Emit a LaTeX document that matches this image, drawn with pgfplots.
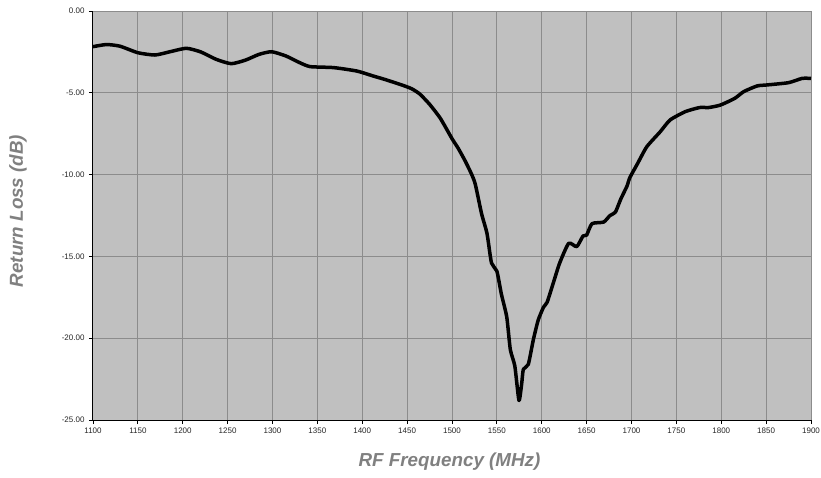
\documentclass[border=0pt]{standalone}
\usepackage{fontspec}
\setmainfont{Liberation Sans}
\usepackage{pgfplots}
\pgfplotsset{compat=1.18}
\definecolor{plotbg}{HTML}{C0C0C0}
\definecolor{gridc}{HTML}{8C8C8C}
\definecolor{labc}{HTML}{808080}
\begin{document}
\begin{tikzpicture}[x=1pt,y=1pt]
\useasboundingbox (-93,-57) rectangle (728,420);
\begin{axis}[
  at={(0,0)}, anchor=south west,
  scale only axis=true,
  width=718pt, height=409pt,
  xmin=1100, xmax=1900, ymin=-25, ymax=0,
  xtick={1100,1150,...,1900},
  xticklabels={1100,1150,1200,1250,1300,1350,1400,1450,1500,1550,1600,1650,1700,1750,1800,1850,1900},
  ytick={-25,-20,-15,-10,-5,0},
  yticklabels={-25.00,-20.00,-15.00,-10.00,-5.00,0.00},
  axis x line*=bottom, axis y line*=left,
  axis line style={black, line width=1pt, -},
  tick align=outside, major tick length=4pt,
  tick style={black, line width=0.8pt},
  grid=major,
  major grid style={gridc, line width=1pt},
  axis background/.style={fill=plotbg},
  ticklabel style={font=\fontsize{8}{9}\selectfont, text=black!85},
  xticklabel style={yshift=0pt},
  yticklabel style={xshift=-1pt},
  xlabel={\textbf{\textit{RF Frequency (MHz)}}},
  ylabel={\textbf{\textit{Return Loss (dB)}}},
  label style={font=\fontsize{18.8}{21}\selectfont, text=labc},
  xlabel style={at={(axis description cs:0.4965,-0.1149)}, anchor=base},
  ylabel style={at={(axis description cs:-0.1045,0.511)}, anchor=center},
]
\addplot[black, line width=3.5pt, smooth, tension=0.35, line join=round] coordinates {
(1100,-2.18) (1115,-2.05) (1130,-2.15) (1150,-2.55) (1169,-2.69) (1185,-2.5)
(1204,-2.28) (1220,-2.5) (1237,-2.95) (1254,-3.22) (1270,-3.0) (1285,-2.65)
(1299,-2.49) (1315,-2.75) (1330,-3.15) (1342,-3.4) (1368,-3.46) (1394,-3.67)
(1412,-3.97) (1425,-4.18) (1444,-4.52) (1455,-4.75) (1464,-5.07) (1475,-5.7)
(1487,-6.56) (1500,-7.8) (1507,-8.4) (1515,-9.2) (1522,-10.0) (1526,-10.6)
(1533,-12.4) (1539,-13.6) (1544,-15.4) (1550,-15.9) (1555,-17.3) (1561,-18.7)
(1565,-20.7) (1570,-21.7) (1574.6,-23.8) (1577.6,-22.8) (1579.5,-21.9) (1585,-21.6)
(1590.6,-20.1) (1596,-18.9) (1602,-18.1) (1606,-17.8) (1613,-16.6) (1620,-15.4)
(1630,-14.2) (1639,-14.4) (1646,-13.75) (1650,-13.7) (1656,-13.0) (1669,-12.9)
(1676,-12.5) (1682,-12.3) (1688,-11.5) (1695,-10.7) (1698,-10.2) (1707,-9.3)
(1717,-8.3) (1732,-7.38) (1743,-6.66) (1760,-6.15) (1776,-5.9) (1786,-5.9)
(1799,-5.75) (1815,-5.34) (1825,-4.93) (1840,-4.58) (1851,-4.52) (1875,-4.38)
(1890,-4.12) (1900,-4.12)
};
\end{axis}
\end{tikzpicture}
\end{document}
